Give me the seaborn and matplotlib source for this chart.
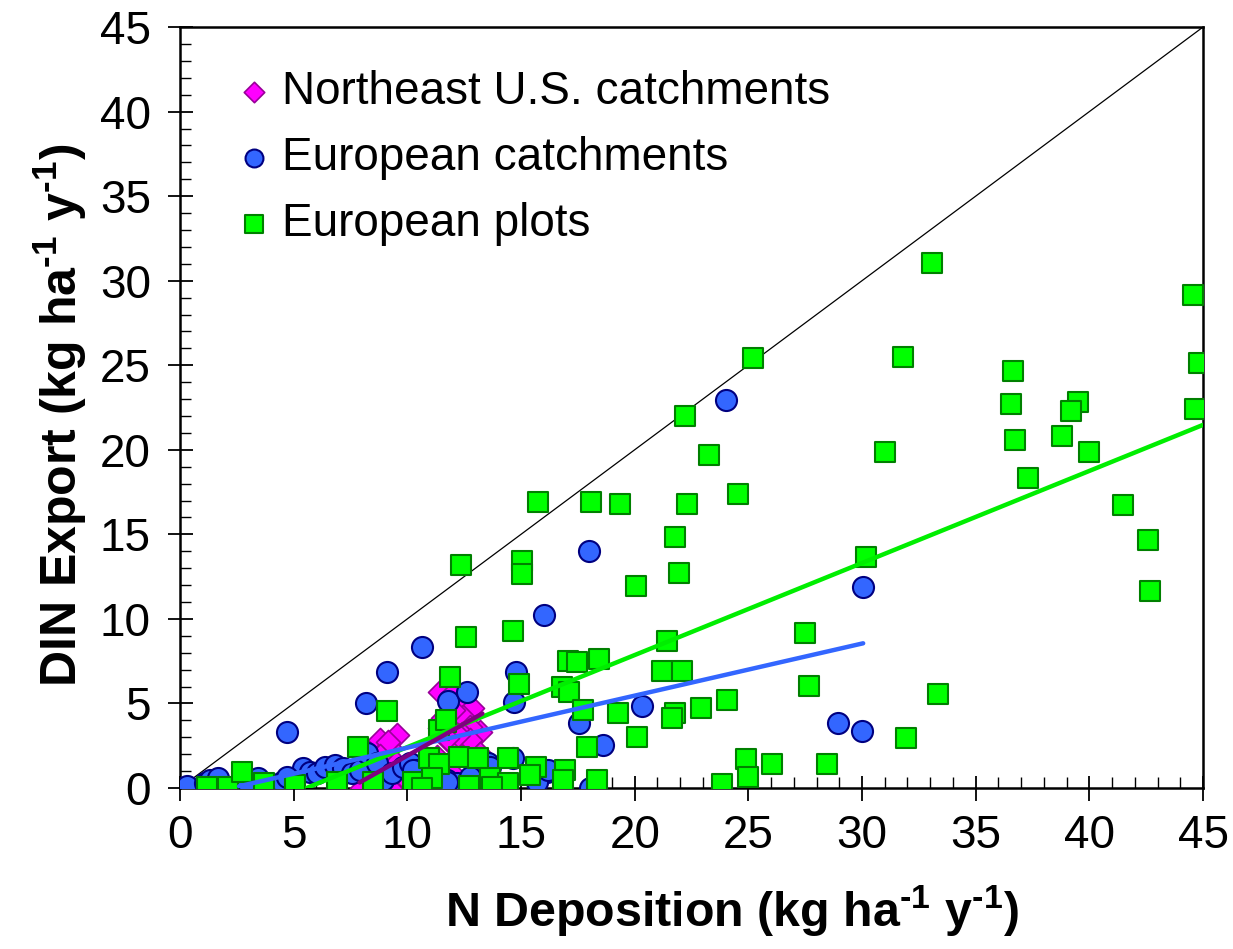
import matplotlib
matplotlib.use("Agg")
import matplotlib.pyplot as plt
import numpy as np
import pandas as pd
import seaborn as sns
from matplotlib.ticker import MultipleLocator

# ---------------- data ----------------
ne_x = [11.44, 12.02, 12.46, 12.83, 11.58, 12.46, 13.20, 12.76, 11.44, 11.80, 12.32, 11.29,
        12.00, 11.50, 12.40, 12.76, 12.24, 11.73, 8.80, 9.53, 9.16, 8.94, 9.24, 9.16,
        8.80, 8.60, 8.36, 8.00, 8.94, 9.24, 9.50, 9.80, 10.00, 11.50, 12.00, 12.80, 13.20]
ne_y = [5.69, 5.60, 5.00, 4.71, 4.12, 4.22, 3.33, 3.63, 3.53, 2.84, 2.44, 1.85,
        4.60, 3.72, 3.20, 2.84, 3.13, 2.94, 2.84, 3.13, 2.44, 2.05, 2.35, 2.74,
        1.90, 1.30, 0.50, 0.00, 0.10, 0.00, 1.50, 1.00, 0.50, 0.20, 0.80, 1.60, 2.00]

euc_x = [0.29, 1.10, 1.62, 2.42, 3.08, 3.45, 3.88, 4.47, 5.43, 5.72, 6.01, 6.38, 6.82, 7.18,
         7.55, 7.92, 8.21, 8.65, 8.94, 9.31, 9.82, 10.12, 10.41, 10.70, 11.73, 12.17, 12.76,
         13.56, 14.66, 16.13, 15.69, 10.26, 11.73, 13.64, 15.69, 16.20, 1.32, 1.69, 2.93, 4.69,
         16.00, 10.66, 9.12, 14.78, 8.17, 4.72, 11.79, 12.64, 14.71, 17.99, 24.02, 20.31,
         17.55, 18.60, 18.04, 28.93, 29.99, 30.06]
euc_y = [0.12, 0.28, 0.37, 0.08, 0.47, 0.57, 0.00, 0.37, 1.16, 0.96, 0.87, 1.26, 1.36, 1.16,
         0.87, 1.06, 2.05, 1.46, 0.47, 0.87, 1.26, 1.46, 1.06, 0.47, 0.47, 0.28, 0.67,
         1.46, 1.76, 0.96, 0.47, 1.06, 0.37, 1.26, 0.37, 1.06, 0.47, 0.57, 0.37, 0.67,
         10.21, 8.36, 6.86, 6.88, 5.01, 3.33, 5.15, 5.70, 5.10, 14.02, 22.94, 4.87,
         3.82, 2.56, 0.00, 3.82, 3.37, 11.90]

eup_x = [33.08, 44.55, 31.79, 36.62, 44.82, 36.54, 39.48, 39.21, 44.65, 36.71, 38.79, 31.03,
         39.99, 37.31, 41.46, 42.57, 42.65, 30.18, 33.35, 31.94, 25.20,
         22.22, 23.26, 18.08, 19.37, 22.31, 24.56, 21.79, 21.95, 20.07, 27.48, 21.44, 21.18,
         22.06, 27.66, 17.06, 17.45, 18.43, 16.80, 17.10, 19.28, 17.74, 21.78, 21.63, 22.90,
         24.04, 20.08, 17.92, 24.88, 26.02, 28.45, 24.97, 23.86, 18.33, 16.94,
         15.75, 12.38, 15.06, 15.06, 12.57, 14.64, 14.89, 11.88, 9.09, 11.72, 11.37, 10.95,
         11.37, 12.27, 13.10, 14.44, 15.66, 10.26, 11.07, 12.73, 13.64, 14.44, 15.40, 16.86,
         1.17, 2.13, 2.71, 3.71, 5.06, 6.89, 8.50, 7.83, 11.70, 10.63, 13.64, 14.44, 13.71]
eup_y = [31.07, 29.18, 25.48, 24.65, 25.11, 22.68, 22.80, 22.32, 22.44, 20.58, 20.81, 19.88,
         19.88, 18.36, 16.72, 14.64, 11.63, 13.63, 5.57, 2.96, 25.40,
         22.02, 19.69, 16.91, 16.79, 16.79, 17.39, 14.83, 12.73, 11.95, 9.15, 8.71, 6.94,
         6.94, 6.03, 7.53, 7.47, 7.65, 6.00, 5.70, 4.42, 4.61, 4.42, 4.16, 4.75,
         5.20, 3.00, 2.44, 1.73, 1.42, 1.42, 0.63, 0.24, 0.47, 1.06,
         16.91, 13.21, 13.42, 12.63, 8.93, 9.28, 6.13, 6.58, 4.55, 3.92, 3.43, 1.80,
         1.40, 1.85, 1.76, 1.76, 1.22, 0.37, 0.57, 0.12, 0.37, 0.22, 0.77, 0.47,
         0.04, 0.08, 0.96, 0.28, 0.18, 0.37, 0.37, 2.44, 4.02, 0.00, 0.57, 0.28, 0.08]

series_names = ["Northeast U.S. catchments", "European catchments", "European plots"]

# fitted regression lines: x-range, slope, intercept
fit_names = ["European plots", "European catchments", "Northeast U.S. catchments"]
fit_x0 = [5.6, 2.6, 7.9]
fit_x1 = [45.0, 30.05, 13.3]
fit_slope = [0.5445, 0.308, 0.755]
fit_icpt = [-3.03, -0.70, -5.64]

one_to_one = [0, 45]
x_ticks = [0, 5, 10, 15, 20, 25, 30, 35, 40, 45]
y_ticks = [0, 5, 10, 15, 20, 25, 30, 35, 40, 45]

# ---------------- style ----------------
sns.set_theme(style="white")
plt.rcParams["font.family"] = ["Liberation Sans", "DejaVu Sans"]
plt.rcParams["mathtext.fontset"] = "custom"
plt.rcParams["mathtext.rm"] = "Liberation Sans:bold"
plt.rcParams["mathtext.bf"] = "Liberation Sans:bold"
plt.rcParams["text.color"] = "black"
plt.rcParams["axes.labelcolor"] = "black"

fig = plt.figure(figsize=(12.33, 9.49), dpi=100)
ax = fig.add_axes([0.146, 0.1697, 0.8297, 0.8018])

ax.plot(one_to_one, one_to_one, color="black", lw=0.9, zorder=1)

df_ne = pd.DataFrame({"x": ne_x, "y": ne_y})
df_euc = pd.DataFrame({"x": euc_x, "y": euc_y})
df_eup = pd.DataFrame({"x": eup_x, "y": eup_y})

sns.scatterplot(data=df_ne, x="x", y="y", ax=ax, marker="D", s=150,
                color="#FF00FF", edgecolor="#990099", linewidth=1.2,
                label=series_names[0], zorder=3)
sns.scatterplot(data=df_euc, x="x", y="y", ax=ax, marker="o", s=230,
                color="#3366FF", edgecolor="#000080", linewidth=1.5,
                label=series_names[1], zorder=4)
sns.scatterplot(data=df_eup, x="x", y="y", ax=ax, marker="s", s=210,
                color="#00FF00", edgecolor="#008000", linewidth=1.5,
                label=series_names[2], zorder=5)

fit_colors = {"European plots": "#00EE00", "European catchments": "#3366FF",
              "Northeast U.S. catchments": "#800080"}
for i, name in enumerate(fit_names):
    xs = np.array([fit_x0[i], fit_x1[i]])
    ys = fit_slope[i] * xs + fit_icpt[i]
    sns.lineplot(x=xs, y=ys, ax=ax, color=fit_colors[name], lw=3.2,
                 zorder=6 + i, legend=False)

ax.set_xlim(0, 45)
ax.set_ylim(0, 45)
ax.set_xticks(x_ticks)
ax.set_yticks(y_ticks)
ax.xaxis.set_minor_locator(MultipleLocator(1))
ax.yaxis.set_minor_locator(MultipleLocator(1))
ax.tick_params(axis="both", which="major", direction="inout", length=18,
               width=1.3, color="black", labelsize=33, labelcolor="black")
ax.tick_params(axis="x", which="major", pad=10)
ax.tick_params(axis="y", which="major", pad=12)
ax.tick_params(axis="both", which="minor", direction="in", length=8,
               width=1.0, color="black")
ax.tick_params(bottom=True, left=True, which="both")

for sp in ax.spines.values():
    sp.set_color("black")
    sp.set_linewidth(1.8)

ax.set_xlabel(r"N Deposition (kg ha$^{\text{-1}}$ y$^{\text{-1}}$)",
              fontsize=34.8, fontweight="bold", color="black")
ax.set_ylabel(r"DIN Export (kg ha$^{\text{-1}}$ y$^{\text{-1}}$)",
              fontsize=36, fontweight="bold", color="black")
ax.xaxis.set_label_coords(0.540, -0.162, transform=ax.transAxes)
ax.yaxis.set_label_coords(-0.117, 0.49, transform=ax.transAxes)
ax.xaxis.label.set_va("center")
ax.yaxis.label.set_va("center")

leg = ax.legend(loc="upper left", bbox_to_anchor=(0.028, 0.968), frameon=False,
                fontsize=33, handletextpad=0.0, labelspacing=0.48,
                markerscale=0.85, borderaxespad=0.0, handlelength=1.2)
for t in leg.get_texts():
    t.set_color("black")

fig.savefig("out.png", dpi=100)
